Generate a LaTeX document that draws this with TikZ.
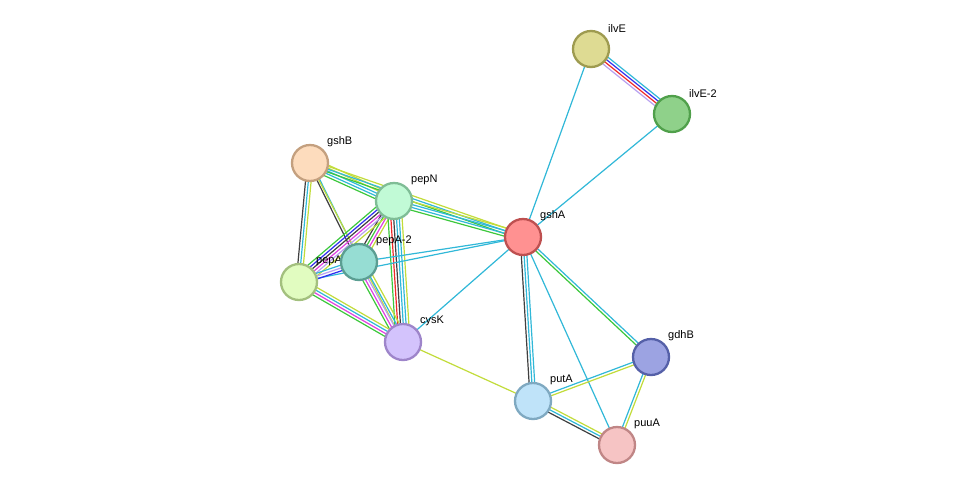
\documentclass[tikz,border=0pt]{standalone}
\usepackage{fontspec}
\setmainfont{Liberation Sans}
\usetikzlibrary{calc}
\pgfdeclarelayer{bg}\pgfdeclarelayer{bgw}\pgfsetlayers{bgw,bg,main}
\definecolor{cG}{HTML}{3CC83C}
\definecolor{cC}{HTML}{30B8D8}
\definecolor{cY}{HTML}{C2DC3A}
\definecolor{cK}{HTML}{404040}
\definecolor{cM}{HTML}{E040E0}
\definecolor{cR}{HTML}{F02828}
\definecolor{cB}{HTML}{3030F0}
\definecolor{cP}{HTML}{B8A0F0}
\tikzset{
 prot/.style={circle,minimum size=36pt,inner sep=0pt,line width=2.3pt},
 lab/.style={font=\fontsize{11}{13}\selectfont,anchor=south west,inner sep=1pt},
 ed/.style={line width=1.2pt}
}
\newcommand\edge[4]{\foreach \c [count=\i] in {#4}{%
 \pgfmathsetmacro\o{(\i-(#3+1)/2)*2.8}%
 \draw[ed,\c] ($(#1.center)!\o pt!90:(#2.center)$) -- ($(#2.center)!\o pt!-90:(#1.center)$);}}
\begin{document}
\begin{tikzpicture}[x=1pt,y=-1pt]
\begin{pgfonlayer}{bgw}
\fill[white] (0,0) rectangle (975,491);
\end{pgfonlayer}
\useasboundingbox (0,0) rectangle (975,491);
\def\P#1#2#3#4#5#6{\node[prot,fill={rgb,255:#4},draw={rgb,255:#5}] (#1) at (#2,#3) {};
 \node[lab] (l#1) at (#2+16,#3-15) {#6};}
\P{ilvE}{591}{49}{red,222;green,219;blue,147}{red,158;green,155;blue,80}{ilvE}
\P{ilvE2}{672}{114}{red,143;green,209;blue,138}{red,80;green,160;blue,75}{ilvE-2}
\P{gshB}{310}{163}{red,253;green,220;blue,189}{red,196;green,160;blue,127}{gshB}
\P{pepN}{394}{201}{red,193;green,250;blue,214}{red,127;green,189;blue,150}{pepN}
\P{gshA}{523}{237}{red,255;green,145;blue,145}{red,190;green,80;blue,80}{gshA}
\P{pepA}{299}{282}{red,225;green,252;blue,192}{red,163;green,192;blue,126}{pepA}
\P{pepAB}{359}{262}{red,150;green,221;blue,211}{red,91;green,158;blue,146}{pepA-2}
\P{cysK}{403}{342}{red,211;green,195;blue,252}{red,158;green,133;blue,202}{cysK}
\P{gdhB}{651}{357}{red,156;green,163;blue,226}{red,85;green,96;blue,168}{gdhB}
\P{putA}{533}{401}{red,191;green,227;blue,249}{red,127;green,169;blue,193}{putA}
\P{puuA}{617}{445}{red,246;green,196;blue,196}{red,192;green,134;blue,134}{puuA}
\begin{pgfonlayer}{bg}
\edge{ilvE}{ilvE2}{4}{cP,cR,cB,cC}
\edge{ilvE}{gshA}{1}{cC}
\edge{ilvE2}{gshA}{1}{cC}
\edge{gshB}{pepN}{5}{cG,cC,cC,cY,cY}
\edge{gshB}{gshA}{3}{cG,cC,cY}
\edge{gshB}{pepA}{3}{cK,cC,cY}
\edge{gshB}{pepAB}{2}{cK,cC}
\edge{gshB}{cysK}{1}{cY}
\edge{pepN}{gshA}{4}{cG,cC,cC,cY}
\edge{pepN}{pepAB}{4}{cK,cG,cM,cY}
\edge{pepN}{pepA}{6}{cG,cB,cK,cM,cP,cY}
\edge{pepN}{cysK}{6}{cG,cR,cK,cC,cC,cY}
\edge{pepAB}{gshA}{1}{cC}
\edge{pepA}{gshA}{1}{cC}
\edge{pepA}{pepAB}{3}{cB,cP,cC}
\edge{pepAB}{cysK}{5}{cG,cM,cP,cC,cY}
\edge{pepA}{cysK}{4}{cG,cM,cC,cY}
\edge{cysK}{gshA}{1}{cC}
\edge{cysK}{putA}{1}{cY}
\edge{gshA}{putA}{3}{cK,cC,cC}
\edge{gshA}{gdhB}{2}{cG,cC}
\edge{gshA}{puuA}{1}{cC}
\edge{gdhB}{putA}{2}{cC,cY}
\edge{gdhB}{puuA}{2}{cC,cY}
\edge{putA}{puuA}{3}{cK,cC,cY}
\end{pgfonlayer}
\end{tikzpicture}
\end{document}
